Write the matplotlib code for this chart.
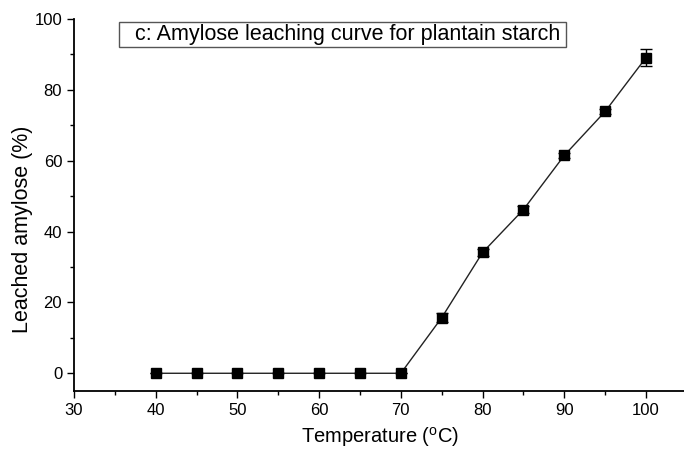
import numpy as np
import matplotlib
matplotlib.use('Agg')
import matplotlib.pyplot as plt
from matplotlib.ticker import MultipleLocator
from matplotlib.patches import Rectangle

plt.rcParams['font.family'] = ['Liberation Sans', 'DejaVu Sans']
plt.rcParams['mathtext.default'] = 'regular'

# data
temp = [40, 45, 50, 55, 60, 65, 70, 75, 80, 85, 90, 95, 100]
amylose = [0, 0, 0, 0, 0, 0, 0, 15.7, 34.1, 46.2, 61.5, 73.9, 89.1]
err = [0, 0, 0, 0, 0, 0, 0, 1.2, 1.0, 1.0, 0.8, 0.8, 2.5]

fig = plt.figure(figsize=(6.84, 4.49), dpi=100)
ax = fig.add_axes([0.1082, 0.1292, 0.896, 0.8285])

ax.errorbar(temp, amylose, yerr=err, fmt='-s', color='#222222', ecolor='black',
            mfc='black', mec='black', markersize=7, linewidth=1, elinewidth=1,
            capsize=4.5, capthick=1)

ax.set_xlim(30, 105)
ax.set_ylim(-5, 100)
ax.set_xticks(np.arange(30, 101, 10))
ax.xaxis.set_minor_locator(MultipleLocator(5))
ax.yaxis.set_major_locator(MultipleLocator(20))
ax.yaxis.set_minor_locator(MultipleLocator(10))
ax.tick_params(which='major', direction='out', length=5, width=1, labelsize=12)
ax.tick_params(which='minor', direction='out', length=3, width=1)
ax.spines['top'].set_visible(False)
ax.spines['right'].set_visible(False)
ax.spines['left'].set_linewidth(1.3)
ax.spines['bottom'].set_linewidth(1.3)

ax.set_xlabel('Temperature ($^{o}$C)', fontsize=14.5, labelpad=5)
ax.set_ylabel('Leached amylose (%)', fontsize=15.5)
ax.yaxis.set_label_coords(-0.067, 0.435)

# label box
ax.add_patch(Rectangle((0.0734, 0.925), 0.7292, 0.067, transform=ax.transAxes,
                       fc='white', ec='#555555', lw=1, clip_on=False, zorder=3))
ax.text(0.0995, 0.958, 'c: Amylose leaching curve for plantain starch',
        transform=ax.transAxes, fontsize=15.5, va='center', ha='left', zorder=4)

fig.savefig('out.png', dpi=100)
